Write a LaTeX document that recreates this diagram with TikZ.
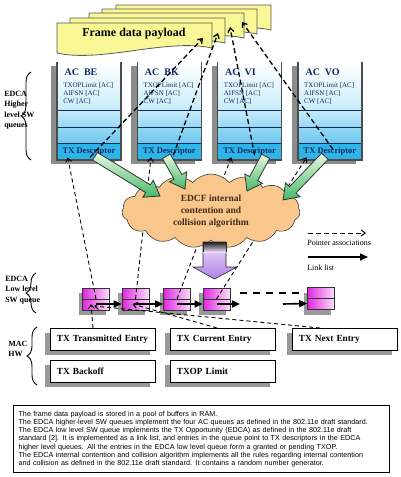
\documentclass[tikz,border=0pt]{standalone}
\usepackage{fontspec}
\setmainfont{Liberation Serif}
\newfontfamily\notefont{Liberation Sans}
\usetikzlibrary{arrows.meta, calc, shapes.symbols, shadows, decorations.pathreplacing}

\definecolor{sheetyellow}{RGB}{250,248,150}
\definecolor{qtop}{RGB}{200,236,250}
\definecolor{qmid}{RGB}{150,216,244}
\definecolor{qdeep}{RGB}{110,200,238}
\definecolor{txblue}{RGB}{45,180,232}
\definecolor{qnavy}{RGB}{20,40,100}
\definecolor{cloudfill}{RGB}{249,198,140}
\definecolor{gtail}{RGB}{232,248,226}
\definecolor{ghead}{RGB}{70,185,105}
\definecolor{listmag}{RGB}{225,40,225}
\definecolor{lavtop}{RGB}{238,222,252}
\definecolor{lavbot}{RGB}{175,130,230}

% fat green arrow from #1 to #2
\newcommand{\greenarrow}[2]{%
  \path let \p1 = ($(#2)-(#1)$) in
    \pgfextra{\pgfmathsetmacro\garang{atan2(\y1,\x1)}%
              \pgfmathsetmacro\garlen{veclen(\x1,\y1)}%
              \xdef\garang{\garang}\xdef\garlen{\garlen}};
  \begin{scope}[shift={(#1)}, rotate=\garang, x=1pt, y=1pt]
    \draw[fatarrow] (0,-4.5) -- (\garlen-14,-4.5) -- (\garlen-14,-10) -- (\garlen,0)
      -- (\garlen-14,10) -- (\garlen-14,4.5) -- (0,4.5) -- cycle;
  \end{scope}}

\begin{document}
\begin{tikzpicture}[
            x = 1pt, y = -1pt, % pixel grid, y going down
            > = {Straight Barb[length=4pt, width=6pt]}, % arrow head style
            semithick % line style
        ]

        \tikzstyle{sheet}=[draw = black!65, fill = sheetyellow, line width = 0.8pt]
        \tikzstyle{txdesc}=[
            fill = txblue,
            minimum width = 64,
            minimum height = 17,
            inner sep = 0,
            text = qnavy,
            font = \bfseries\fontsize{8.5}{10}\selectfont
        ]
        \tikzstyle{ptr}=[->, dash pattern = on 4pt off 3pt, line width = 0.9pt]
        \tikzstyle{bigptr}=[->, dash pattern = on 5pt off 3pt, line width = 1.3pt]
        \tikzstyle{link}=[-{Triangle[length = 8pt, width = 7pt]}, line width = 1.6pt]
        \tikzstyle{entry}=[
            draw = black!80,
            minimum width = 27,
            minimum height = 22,
            inner sep = 0,
            left color = listmag,
            right color = listmag!15,
            drop shadow = {shadow xshift = -4pt, shadow yshift = -5pt, fill = black!40, opacity = 1}
        ]
        \tikzstyle{hwbox}=[
            draw,
            fill = white,
            anchor = north west,
            minimum width = 105,
            minimum height = 22,
            inner xsep = 6.5,
            text width = 92,
            align = left,
            font = \bfseries\fontsize{9.3}{11}\selectfont,
            drop shadow = {shadow xshift = -5pt, shadow yshift = -5pt, fill = black!40, opacity = 1}
        ]
        \tikzstyle{fatarrow}=[draw = black!80, top color = gtail, bottom color = ghead, line width = 0.8pt]
        \tikzstyle{sidebrace}=[decorate, decoration = {brace, amplitude = 10pt}, line width = 0.9pt]
        \tikzstyle{sidelabel}=[anchor = west, align = left, inner sep = 0, font = \bfseries\fontsize{8}{10.5}\selectfont]

        \fill[white] (0,0) rectangle (400,477);
        \useasboundingbox (0,0) rectangle (400,477);

        % frame data payload sheets, back to front
        \foreach \sx/\sy in {116/5, 102/9, 89/13, 70/18, 57/23}
            \draw[sheet] (\sx,\sy) -- (\sx+155,\sy) -- (\sx+155,\sy+25)
                .. controls (\sx+110,\sy+15) and (\sx+45,\sy+40) .. (\sx,\sy+30) -- cycle;
        \node[font = \bfseries\fontsize{12}{14}\selectfont] (fdp) at (134,34) {Frame data payload};
        \coordinate (p1) at (203,38);
        \coordinate (p2) at (218,33);
        \coordinate (p3) at (230,27);
        \coordinate (p4) at (242,22);

        % the four AC queues
        \foreach \i/\ac in {1/BE, 2/BK, 3/VI, 4/VO} {
            \pgfmathsetmacro\qx{57 + 80.3*(\i-1)}
            \fill[black!45] (\qx-6,66) rectangle (\qx+58,164);
            \shade[top color = white, bottom color = qtop] (\qx,62) rectangle (\qx+64,110);
            \shade[top color = qtop, bottom color = qmid] (\qx,110) rectangle (\qx+64,127);
            \shade[top color = qmid, bottom color = qdeep] (\qx,127) rectangle (\qx+64,143);
            \node[txdesc] (t\i) at (\qx+32,151.5) {TX Descriptor};
            \draw[qnavy, line width = 0.9pt] (\qx,110) -- (\qx+64,110) (\qx,127) -- (\qx+64,127)
                (\qx,143) -- (\qx+64,143);
            \draw[black!70, line width = 1.2pt] (\qx,62) -- (\qx,160) -- (\qx+64,160) -- (\qx+64,62);
            \node[anchor = west, text = qnavy, font = \bfseries\fontsize{10}{12}\selectfont]
                at (\qx+4,72) {AC\ \ \ac};
            \node[anchor = north west, align = left, inner sep = 0, text = qnavy,
                font = \fontsize{7}{8}\selectfont] at (\qx+6,82) {TXOPLimit [AC]\\AIFSN [AC]\\CW [AC]};
        }

        % low level queue entries
        \node[entry] (l1) at (96,299) {};
        \node[entry] (l2) at (135.5,299) {};
        \node[entry] (l3) at (177,299) {};
        \node[entry] (l4) at (216.5,299) {};
        \node[entry] (l5) at (321,298.5) {};
        \foreach \i in {1,...,5}
            \draw[black!80] (l\i.west) -- (l\i.east);

        % entries point to the TX descriptors
        \draw[ptr] (l1.center) -- ($(t1.south west)+(11,-3)$);
        \draw[ptr] (l2.center) -- ($(t2.south west)+(14,-3)$);
        \draw[ptr] (l3.center) -- ($(t3.south west)+(14,-3)$);
        \draw[ptr] (l4.center) -- ($(t4.south west)+(9,-3)$);

        \node[cloud, cloud puffs = 15, cloud puff arc = 100, aspect = 2.4,
            draw = black!75, fill = cloudfill, minimum width = 178, minimum height = 74,
            inner sep = 0, align = center, text = brown!35!black,
            font = \bfseries\fontsize{9.5}{12}\selectfont] (cl) at (211,211)
            {EDCF internal\\contention and\\collision algorithm};

        % descriptors into the contention algorithm
        \coordinate (ga1) at ($(t1.south)+(6,-4)$);
        \coordinate (ga2) at ($(t2.south)+(-3,-4)$);
        \coordinate (ga3) at ($(t3.south)+(16,-4)$);
        \coordinate (ga4) at ($(t4.south)+(-5,-4)$);
        \coordinate (gb1) at (160,196);
        \coordinate (gb2) at (185,189);
        \coordinate (gb3) at (247,191);
        \coordinate (gb4) at (283,200);
        \greenarrow{ga1}{gb1}
        \greenarrow{ga2}{gb2}
        \greenarrow{ga3}{gb3}
        \greenarrow{ga4}{gb4}

        % block arrow down to the low level queue
        \coordinate (pa) at (214.5,242);
        \draw[black!85, top color = lavtop, bottom color = lavbot] (pa) +(-11.5,0) -- +(11.5,0)
            -- +(11.5,25) -- +(22.5,25) -- +(0,37) -- +(-21.5,25) -- +(-11.5,25) -- cycle;
        \shade[top color = black!90, bottom color = lavtop] (pa) +(-11.5,0) rectangle +(11.5,10);
        \draw[black!85] (pa) +(-11.5,0) -- +(11.5,0) -- +(11.5,10) +(-11.5,0) -- +(-11.5,10);

        % descriptors point into the frame data payload
        \draw[bigptr] ($(t1.south)+(1,-3)$) -- (p1);
        \draw[bigptr] ($(t2.south)+(4,-5)$) -- (p2);
        \draw[bigptr] ($(t3.south)+(5,-5)$) -- (p3);
        \draw[bigptr] ($(t4.south)+(3,-11)$) -- (p4);

        % link list
        \coordinate (gap1) at (240,304);
        \coordinate (gap2) at (240,293);
        \coordinate (gap3) at (300,293);
        \coordinate (gap4) at (283,304);
        \draw[link] ($(l1.center)+(0,5)$) -- ($(l2.west)+(0,5)$);
        \draw[link] ($(l2.center)+(0,5)$) -- ($(l3.west)+(0,5)$);
        \draw[link] ($(l3.center)+(0,5)$) -- ($(l4.west)+(0,5)$);
        \draw[link] ($(l4.center)+(0,5)$) -- (gap1);
        \draw[line width = 2.5pt, dash pattern = on 7pt off 6pt] (gap2) -- (gap3);
        \draw[link] (gap4) -- ($(l5.west)+(0,5)$);

        % MAC HW
        \node[hwbox] (m1) at (50,328) {TX Transmitted Entry};
        \node[hwbox] (m2) at (170,328) {TX Current Entry};
        \node[hwbox] (m3) at (292,328) {TX Next Entry};
        \node[hwbox] (m4) at (50,360) {TX Backoff};
        \node[hwbox] (m5) at (170,360) {TXOP Limit};
        \draw[ptr] ($(m1.north west)+(43,0)$) -- ($(l1.center)+(-5,5)$);
        \draw[ptr] ($(m2.north west)+(47,0)$) -- ($(l2.center)+(-3,5)$);
        \draw[ptr] ($(m3.north west)+(28,0)$) -- ($(l1.center)+(-2,7)$);

        % legend
        \coordinate (lg1) at (308,233);
        \coordinate (lg2) at (366,233);
        \coordinate (lg3) at (308,257);
        \coordinate (lg4) at (368,257);
        \draw[->, dash pattern = on 5pt off 3pt, line width = 1pt] (lg1) -- (lg2);
        \draw[link] (lg3) -- (lg4);
        \node[anchor = west, inner sep = 0, font = \fontsize{8}{10}\selectfont] (lgt1) at (307,243) {Pointer associations};
        \node[anchor = west, inner sep = 0, font = \fontsize{8}{10}\selectfont] (lgt2) at (307,268) {Link list};

        % side braces
        \draw[sidebrace] (31,160) -- (31,72);
        \draw[sidebrace] (36,313) -- (36,273);
        \draw[sidebrace] (37,385) -- (37,327);
        \node[sidelabel] (hsw) at (4,110) {EDCA\\Higher\\level SW\\queues};
        \node[sidelabel] (lsw) at (5,290) {EDCA\\Low level\\SW queue};
        \node[sidelabel] (mhw) at (8,349) {MAC\\HW};

        % notes
        \node[draw, line width = 1.2pt, anchor = north west, minimum width = 376, minimum height = 67,
            text width = 366, inner sep = 5, align = left,
            font = \notefont\fontsize{7.2}{8.3}\selectfont] (note) at (13,405)
            {The frame data payload is stored in a pool of buffers in RAM.\\
            The EDCA higher-level SW queues implement the four AC queues as defined in the 802.11e draft standard.\\
            The EDCA low level SW queue implements the TX Opportunity (EDCA) as defined in the 802.11e draft\\
            standard [2]. It is implemented as a link list, and entries in the queue point to TX descriptors in the EDCA\\
            higher level queues. All the entries in the EDCA low level queue form a granted or pending TXOP.\\
            The EDCA internal contention and collision algorithm implements all the rules regarding internal contention\\
            and collision as defined in the 802.11e draft standard. It contains a random number generator.};
    \end{tikzpicture}
\end{document}
